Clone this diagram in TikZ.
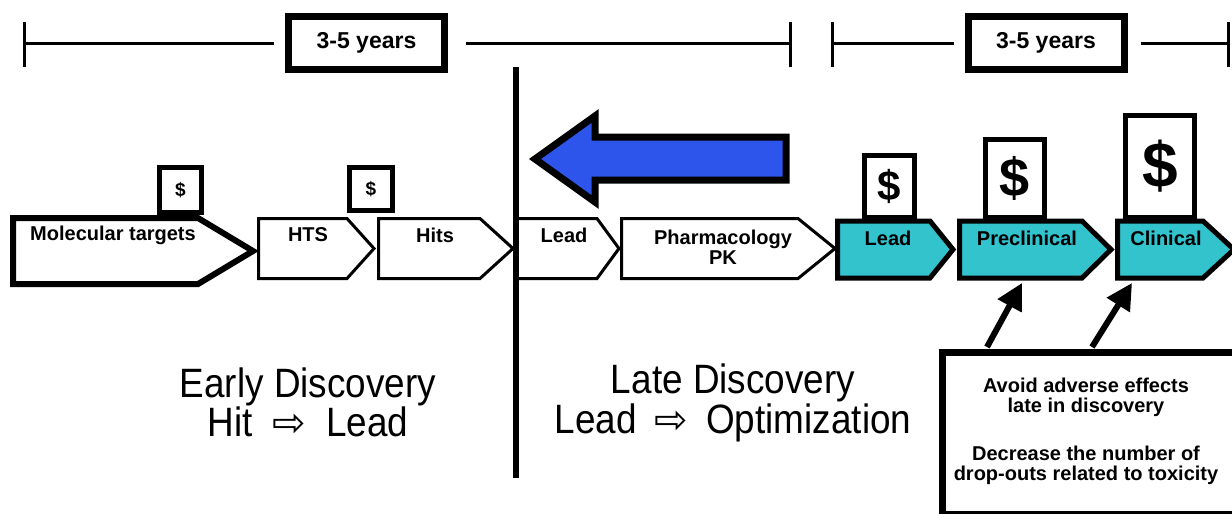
\documentclass[tikz,border=0pt]{standalone}
\usepackage{fontspec}
\setmainfont{Liberation Sans}
\newfontfamily\erafont[FakeStretch=0.9]{Liberation Sans}
\newfontfamily\symfont{DejaVu Sans}
\usetikzlibrary{arrows.meta,calc}
\definecolor{cpblue}{RGB}{45,85,235}
\definecolor{cpteal}{RGB}{50,195,205}

\begin{document}
\begin{tikzpicture}[x=1pt,y=-1pt,
  span/.style={line width=3pt},
  yrbox/.style={draw,line width=7pt,minimum width=156pt,minimum height=53pt,font=\fontsize{23}{26}\selectfont\bfseries},
  paybox/.style={draw,fill=white,line width=5pt,inner sep=0pt,font=\bfseries},
  stage/.style={draw,fill=white,line width=3pt,line join=miter},
  later/.style={stage,fill=cpteal,line width=5pt},
  lbl/.style={font=\fontsize{20}{20}\selectfont\bfseries,align=center,inner sep=0pt},
  era/.style={font=\erafont\fontsize{41}{38}\selectfont,align=center,inner sep=0pt},
  warn/.style={line width=6pt,-{Triangle[length=26pt,width=26pt]}}]

\useasboundingbox (0,0) rectangle (1232,514);
\clip (0,0) rectangle (1232,514);

% time spans
\coordinate (t1) at (24,43);
\coordinate (t2) at (790,43);
\coordinate (t3) at (832,43);
\coordinate (t4) at (1228,43);
\node[yrbox] (yr1) at (366.5,43) {3-5 years};
\node[yrbox] (yr2) at (1046,43) {3-5 years};
\foreach \t in {t1,t2,t3,t4}
  \draw[span] (\t) ++(0,-21) -- ++(0,45);
\draw[span] (t1) -- ([xshift=-11pt]yr1.west);
\draw[span] ([xshift=18pt]yr1.east) -- (t2);
\draw[span] (t3) -- ([xshift=-11pt]yr2.west);
\draw[span] ([xshift=13pt]yr2.east) -- (t4);

% cost boxes
\node[paybox,minimum width=42pt,minimum height=45pt,font=\fontsize{19}{19}\selectfont\bfseries] (pay1) at (180.5,190) {\$};
\node[paybox,minimum width=43pt,minimum height=43pt,font=\fontsize{19}{19}\selectfont\bfseries] (pay2) at (371,189) {\$};
\node[paybox,minimum width=50pt,minimum height=62pt,font=\fontsize{42}{42}\selectfont\bfseries] (pay3) at (889.5,186.5) {\$};
\node[paybox,minimum width=59pt,minimum height=78pt,font=\fontsize{54}{54}\selectfont\bfseries] (pay4) at (1015,178.5) {\$};
\node[paybox,minimum width=69pt,minimum height=102pt,font=\fontsize{64}{64}\selectfont\bfseries] (pay5) at (1160,166.5) {\$};

% pipeline stages
\draw[stage,line width=6pt] (13,218) -- (198,218) -- (253,251) -- (198,284) -- (13,284) -- cycle;
\draw[stage] (258.5,218.5) -- (347,218.5) -- (374,248.5) -- (347,278.5) -- (258.5,278.5) -- cycle;
\draw[stage] (378.5,218.5) -- (480,218.5) -- (513,248.5) -- (480,278.5) -- (378.5,278.5) -- cycle;
\draw[stage] (516,218.5) -- (597,218.5) -- (619,248.5) -- (597,278.5) -- (516,278.5) -- cycle;
\draw[stage] (621.5,218.5) -- (798,218.5) -- (835,248.5) -- (798,278.5) -- (621.5,278.5) -- cycle;
\draw[later] (837.5,221) -- (930,221) -- (953,249.5) -- (930,278) -- (837.5,278) -- cycle;
\draw[later] (959.5,221) -- (1082,221) -- (1111,249.5) -- (1082,278) -- (959.5,278) -- cycle;
\draw[later] (1117.5,221) -- (1203,221) -- (1234,249.5) -- (1203,278) -- (1117.5,278) -- cycle;

\node[lbl] (mt) at (113,235) {Molecular targets};
\node[lbl] (hts) at (308,235) {HTS};
\node[lbl] (hits) at (435,235) {Hits};
\node[lbl] (lead1) at (564,235) {Lead};
\node[lbl] (pharm) at (723,247) {Pharmacology\\PK};
\node[lbl] (lead2) at (888,238) {Lead};
\node[lbl] (precl) at (1027,238) {Preclinical};
\node[lbl] (clin) at (1166,238) {Clinical};

% divider and push-back arrow
\draw[line width=6pt] (516,67) -- (516,478);
\draw[fill=cpblue,line width=7pt,line join=miter] (535,159) -- (595,116) -- (595,137) -- (786,137)
  -- (786,180) -- (595,180) -- (595,202) -- cycle;

\node[era] (early) at (308,402) {Early Discovery\\Hit\hspace{20pt}{\symfont\fontsize{40}{38}\selectfont ⇨}\hspace{20pt}Lead};
\node[era] (late) at (733,403) {Late Discovery\\Lead\hspace{18pt}{\symfont\fontsize{40}{38}\selectfont ⇨}\hspace{18pt}Optimization};

% toxicity note
\node[draw,line width=7pt,minimum width=320pt,minimum height=162pt,anchor=north west] (note) at (938.5,348.5) {};
\node[lbl,font=\fontsize{20}{20}\selectfont\bfseries] (notetxt) at (1086,431)
  {Avoid adverse effects\\late in discovery\\[28pt]Decrease the number of\\drop-outs related to toxicity};
\coordinate (w1) at (987,347);
\coordinate (w1e) at (1022,283);
\coordinate (w2) at (1092,347);
\coordinate (w2e) at (1132,283);
\draw[warn] (w1) -- (w1e);
\draw[warn] (w2) -- (w2e);
\end{tikzpicture}
\end{document}
